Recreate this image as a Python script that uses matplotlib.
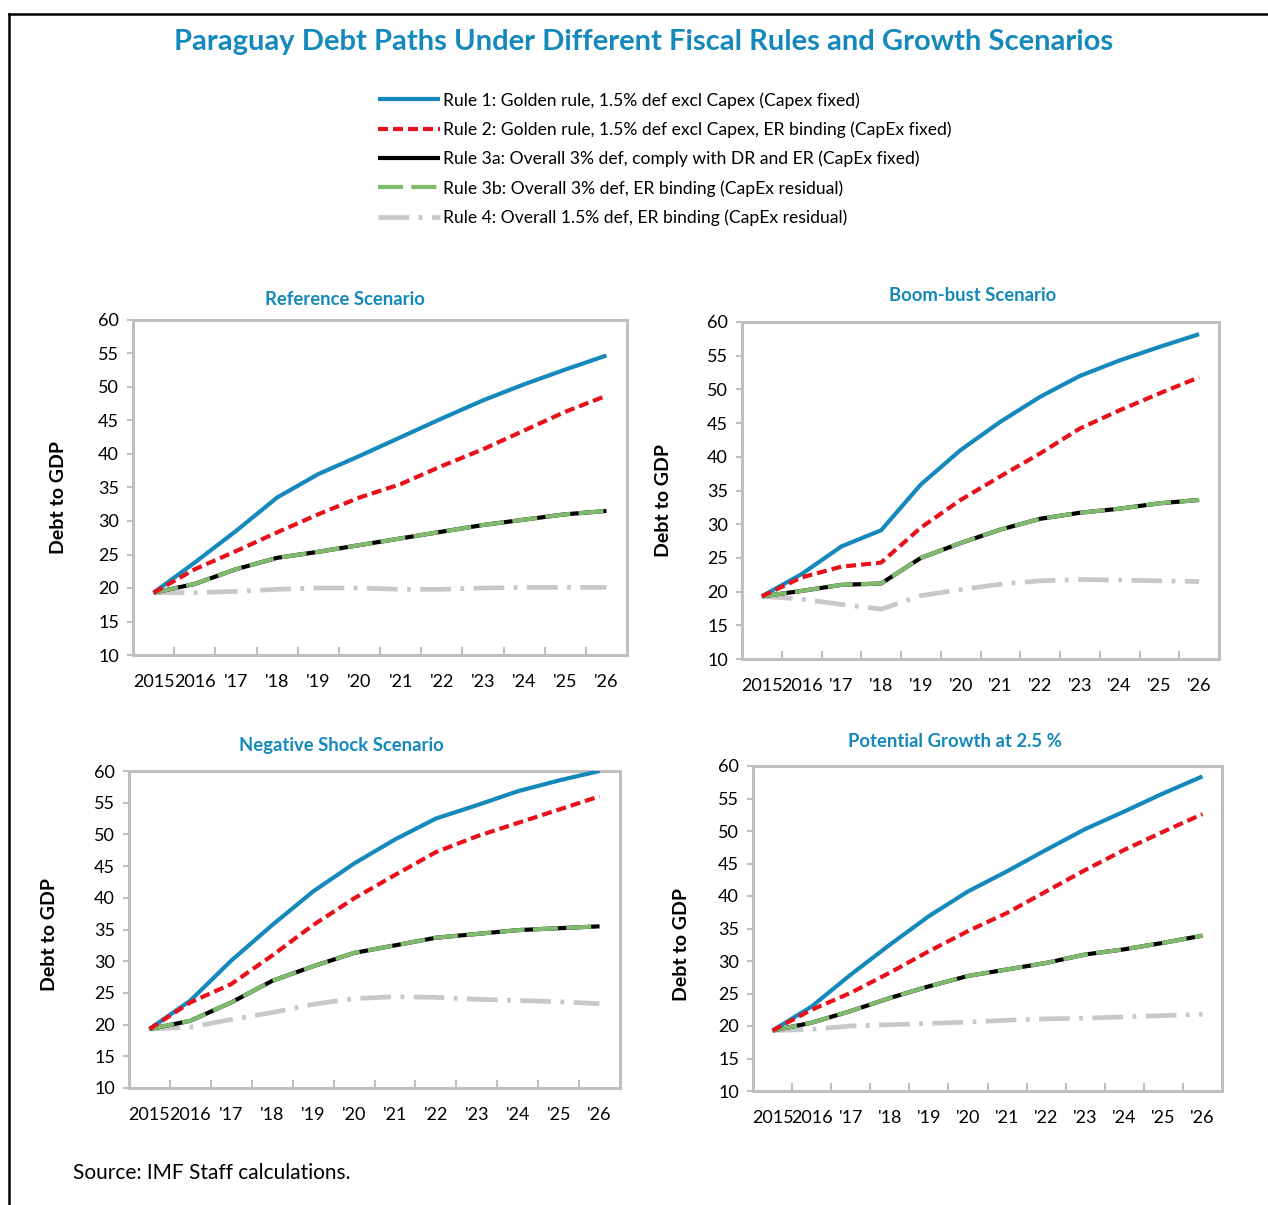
import matplotlib
matplotlib.use("Agg")
import matplotlib.pyplot as plt
from matplotlib.lines import Line2D

plt.rcParams['font.family'] = ['Lato', 'DejaVu Sans']

years = ["2015", "2016", "'17", "'18", "'19", "'20", "'21", "'22", "'23", "'24", "'25", "'26"]

rule_labels = [
    "Rule 1: Golden rule, 1.5% def excl Capex (Capex fixed)",
    "Rule 2: Golden rule, 1.5% def excl Capex, ER binding (CapEx fixed)",
    "Rule 3a: Overall 3% def, comply with DR and ER (CapEx fixed)",
    "Rule 3b: Overall 3% def, ER binding (CapEx residual)",
    "Rule 4: Overall 1.5% def, ER binding (CapEx residual)",
]

# Reference scenario
ref_r1 = [19.3, 23.8, 28.5, 33.5, 37.0, 39.7, 42.5, 45.3, 48.0, 50.4, 52.6, 54.7]
ref_r2 = [19.3, 22.8, 25.5, 28.3, 31.0, 33.5, 35.5, 38.2, 40.7, 43.5, 46.3, 48.7]
ref_r3a = [19.3, 20.6, 22.8, 24.5, 25.4, 26.4, 27.4, 28.4, 29.4, 30.2, 31.0, 31.5]
ref_r3b = [19.3, 20.6, 22.8, 24.5, 25.4, 26.4, 27.4, 28.4, 29.4, 30.2, 31.0, 31.5]
ref_r4 = [19.3, 19.3, 19.5, 19.8, 20.0, 20.0, 19.8, 19.8, 20.0, 20.1, 20.1, 20.1]

# Boom-bust scenario
bb_r1 = [19.3, 22.6, 26.7, 29.1, 35.9, 41.0, 45.2, 48.9, 52.0, 54.3, 56.3, 58.2]
bb_r2 = [19.3, 22.1, 23.7, 24.3, 29.5, 33.6, 37.1, 40.5, 44.2, 46.9, 49.4, 51.8]
bb_r3a = [19.3, 20.1, 21.0, 21.2, 25.0, 27.2, 29.2, 30.8, 31.7, 32.3, 33.1, 33.6]
bb_r3b = [19.3, 20.1, 21.0, 21.2, 25.0, 27.2, 29.2, 30.8, 31.7, 32.3, 33.1, 33.6]
bb_r4 = [19.3, 18.9, 18.1, 17.4, 19.4, 20.3, 21.1, 21.6, 21.8, 21.7, 21.6, 21.5]

# Negative shock scenario
ns_r1 = [19.3, 23.8, 30.1, 35.7, 41.0, 45.4, 49.2, 52.5, 54.6, 56.8, 58.5, 60.0]
ns_r2 = [19.3, 23.5, 26.4, 30.9, 35.7, 39.9, 43.6, 47.2, 49.7, 51.8, 53.9, 56.0]
ns_r3a = [19.3, 20.6, 23.5, 26.9, 29.2, 31.3, 32.5, 33.7, 34.3, 34.9, 35.2, 35.5]
ns_r3b = [19.3, 20.6, 23.5, 26.9, 29.2, 31.3, 32.5, 33.7, 34.3, 34.9, 35.2, 35.5]
ns_r4 = [19.3, 19.6, 20.8, 21.9, 23.2, 24.1, 24.4, 24.3, 24.0, 23.8, 23.6, 23.3]

# Potential growth at 2.5%
pg_r1 = [19.3, 23.0, 27.9, 32.5, 36.9, 40.7, 43.8, 47.1, 50.3, 53.0, 55.8, 58.4]
pg_r2 = [19.3, 22.5, 25.1, 28.2, 31.5, 34.6, 37.4, 40.7, 44.0, 47.1, 49.9, 52.6]
pg_r3a = [19.3, 20.5, 22.3, 24.3, 26.1, 27.7, 28.7, 29.7, 31.0, 31.8, 32.8, 33.9]
pg_r3b = [19.3, 20.5, 22.3, 24.3, 26.1, 27.7, 28.7, 29.7, 31.0, 31.8, 32.8, 33.9]
pg_r4 = [19.3, 19.5, 20.0, 20.2, 20.4, 20.6, 20.9, 21.1, 21.2, 21.4, 21.6, 21.8]

panels = [
    ("Reference Scenario", [ref_r1, ref_r2, ref_r3a, ref_r3b, ref_r4]),
    ("Boom-bust Scenario", [bb_r1, bb_r2, bb_r3a, bb_r3b, bb_r4]),
    ("Negative Shock Scenario", [ns_r1, ns_r2, ns_r3a, ns_r3b, ns_r4]),
    ("Potential Growth at 2.5 %", [pg_r1, pg_r2, pg_r3a, pg_r3b, pg_r4]),
]

blue = '#1589BC'
grid_grey = '#BFBFBF'

styles = [
    dict(color=blue, lw=3.0, ls='-', zorder=4),
    dict(color='#E8101A', lw=3.0, ls=(0, (2.4, 1.2)), zorder=5),
    dict(color='black', lw=3.0, ls='-', zorder=2),
    dict(color='#7FBA6E', lw=3.0, ls=(0, (6, 2)), zorder=3),
    dict(color='#C8C8C8', lw=3.4, ls=(0, (6.5, 2.0, 0.8, 2.0)), zorder=1),
]

W, H = 1268, 1205
fig = plt.figure(figsize=(W / 100, H / 100), dpi=100)

def px_box(l, r, t, b):
    return [l / W, 1 - b / H, (r - l) / W, (b - t) / H]

boxes = [px_box(133, 627, 320, 655), px_box(742, 1219, 322, 659),
         px_box(129, 620, 771, 1088), px_box(753, 1222, 766, 1091)]
title_pos = [(0.43, 1.06), (0.484, 1.08), (0.433, 1.079), (0.431, 1.074)]
ylab_pos = [(-0.134, 0.469), (-0.147, 0.469), (-0.145, 0.483), (-0.134, 0.452)]

x = list(range(len(years)))
handles = []
for i, (title, series) in enumerate(panels):
    ax = fig.add_axes(boxes[i])
    for j, ys in enumerate(series):
        ln, = ax.plot(x, ys, label=rule_labels[j], solid_capstyle='butt',
                      dash_capstyle='butt', **styles[j])
        if i == 0:
            handles.append(ln)
    ax.set_xlim(-0.5, len(years) - 0.5)
    ax.set_ylim(10, 60)
    ax.set_yticks(range(10, 61, 5))
    ax.set_xticks(x)
    ax.set_xticklabels(years)
    ax.set_xticks([k + 0.5 for k in range(len(years) - 1)], minor=True)
    ax.tick_params(axis='x', which='major', length=0, pad=14, labelsize=13)
    ax.tick_params(axis='x', which='minor', direction='in', length=6,
                   width=1.5, color=grid_grey)
    ax.tick_params(axis='y', direction='out', length=4, width=1.5,
                   color=grid_grey, pad=6, labelsize=13)
    for sp in ax.spines.values():
        sp.set_color(grid_grey)
        sp.set_linewidth(2.2)
    ax.text(title_pos[i][0], title_pos[i][1], title, transform=ax.transAxes,
            ha='center', va='center', color=blue, fontweight='bold', fontsize=13.3)
    ax.set_ylabel("Debt to GDP", fontweight='bold', fontsize=14)
    ax.yaxis.set_label_coords(*ylab_pos[i])

fig.text(644 / W, 1 - 42 / H,
         "Paraguay Debt Paths Under Different Fiscal Rules and Growth Scenarios",
         ha='center', va='center', color=blue, fontweight='bold', fontsize=21)

fig.legend(handles, rule_labels, loc='upper left',
           bbox_to_anchor=(378 / W, 1 - 92 / H), frameon=False,
           fontsize=12.6, handlelength=3.55, handletextpad=0.18,
           labelspacing=0.73, borderpad=0, borderaxespad=0)

fig.text(73 / W, 1 - 1173 / H, "Source: IMF Staff calculations.",
         ha='left', va='center', fontsize=15)

# outer frame (left and top only)
fig.add_artist(Line2D([9 / W, 9 / W], [0, 1 - 13.5 / H], color='black', lw=1.8,
                      transform=fig.transFigure))
fig.add_artist(Line2D([9 / W, 1], [1 - 13.5 / H, 1 - 13.5 / H], color='black',
                      lw=1.8, transform=fig.transFigure))

fig.savefig("out.png", dpi=100)
